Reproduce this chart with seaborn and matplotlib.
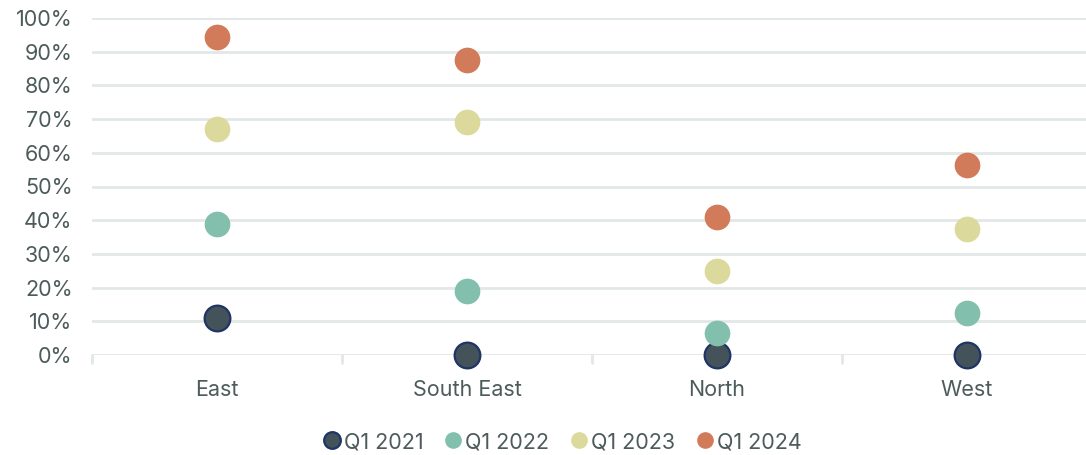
import matplotlib
matplotlib.use("Agg")
import matplotlib.pyplot as plt
from matplotlib.lines import Line2D
import seaborn as sns
import pandas as pd

regions = ["East", "South East", "North", "West"]
quarters = ["Q1 2021", "Q1 2022", "Q1 2023", "Q1 2024"]
q1_2021 = [11, 0, 0, 0]
q1_2022 = [39, 19, 6.5, 12.5]
q1_2023 = [67, 69, 25, 37.5]
q1_2024 = [94.5, 87.5, 41, 56.5]
yticks = [0, 10, 20, 30, 40, 50, 60, 70, 80, 90, 100]

fills = ["#44525a", "#82bfad", "#dbd99c", "#d27b5a"]
edges = ["#1f3566", "#82bfad", "#dbd99c", "#d27b5a"]
edge_w = [1.6, 0, 0, 0]
text_color = "#4d5b5b"
grid_color = "#e2e7e7"

sns.set_theme(style="white")
plt.rcParams["font.family"] = ["Inter", "DejaVu Sans"]

rows = []
for q, vals in zip(quarters, [q1_2021, q1_2022, q1_2023, q1_2024]):
    for r, v in zip(regions, vals):
        rows.append({"Region": r, "Quarter": q, "Share": v})
df = pd.DataFrame(rows)

fig = plt.figure(figsize=(10.86, 4.55), dpi=100)
ax = fig.add_axes([92 / 1086, 100 / 455, 1000 / 1086, 337 / 455])

for i, q in enumerate(quarters):
    sub = df[df["Quarter"] == q]
    sns.stripplot(data=sub, x="Region", y="Share", order=regions, jitter=False,
                  color=fills[i], edgecolor=edges[i], linewidth=edge_w[i],
                  size=18.5, ax=ax, zorder=3 + i, clip_on=False)

ax.set_xlim(-0.5, 3.5)
ax.set_ylim(0, 100)
ax.set_yticks(yticks)
ax.set_yticklabels([f"{t}%" for t in yticks])
ax.set_xlabel("")
ax.set_ylabel("")
for t in yticks:
    ax.axhline(t, color=grid_color, lw=2, zorder=1)
for s in ax.spines.values():
    s.set_visible(False)

ax.tick_params(axis="y", length=0, pad=14, labelsize=15.5, labelcolor=text_color)
ax.tick_params(axis="x", length=0, pad=18, labelsize=15.5, labelcolor=text_color)
for xb in [-0.5, 0.5, 1.5, 2.5, 3.5]:
    ax.plot([xb, xb], [0, -2.4], color=grid_color, lw=2, clip_on=False, zorder=1)

handles = [Line2D([], [], marker="o", linestyle="", markersize=12,
                  markerfacecolor=fills[i], markeredgecolor=edges[i],
                  markeredgewidth=edge_w[i] if edge_w[i] else 0)
           for i in range(4)]
fig.legend(handles, quarters, loc="center", bbox_to_anchor=(0.517, 13 / 455),
           ncol=4, frameon=False, fontsize=15.5, labelcolor=text_color,
           handletextpad=0.05, columnspacing=0.9, handlelength=1.0)

fig.savefig("out.png", dpi=100)
